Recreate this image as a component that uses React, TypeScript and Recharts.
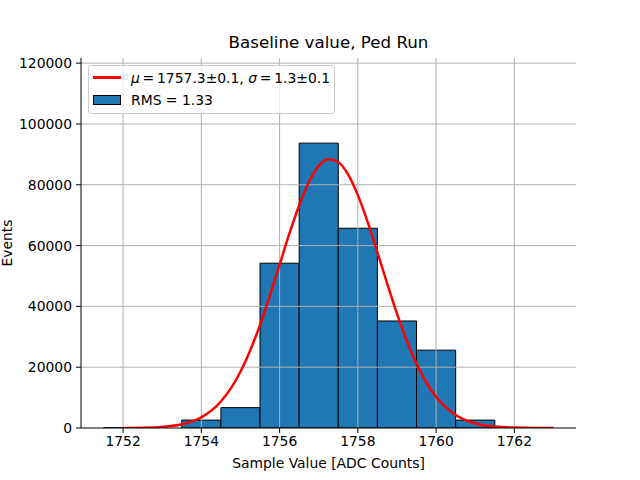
import React from "react";
import {
  ComposedChart,
  Line,
  XAxis,
  YAxis,
  ReferenceArea,
  ReferenceLine,
  Label,
} from "recharts";

// histogram bins (bin centres, width 1)
const binCenters = [1752, 1754, 1755, 1756, 1757, 1758, 1759, 1760, 1761];
const binCounts = [60, 2600, 6700, 54200, 93700, 65700, 35200, 25600, 2600];

// fitted gaussian
const fitX = [
  1752, 1752.5, 1753, 1753.5, 1754, 1754.5, 1755, 1755.5, 1755.75, 1756,
  1756.25, 1756.5, 1756.75, 1757, 1757.25, 1757.5, 1757.75, 1758, 1758.25,
  1758.5, 1758.75, 1759, 1759.25, 1759.5, 1760, 1760.5, 1761, 1761.5, 1762,
  1762.5, 1763,
];
const fitY = [
  20, 100, 370, 1230, 3500, 8700, 18500, 33900, 43500, 53700, 63900, 73200,
  80900, 86200, 88400, 87500, 83400, 76600, 67800, 57800, 47500, 37600, 28700,
  21100, 10200, 4300, 1500, 480, 130, 30, 6,
];

const xTicks = [1752, 1754, 1756, 1758, 1760, 1762];
const yTicks = [0, 20000, 40000, 60000, 80000, 100000, 120000];

const fitLabel = "1757.3±0.1";
const sigmaLabel = "1.3±0.1";
const rmsLabel = "RMS = 1.33";

const font = "'DejaVu Sans', sans-serif";
const blue = "#1f77b4";
const xDomain = [1750.925, 1763.575];
const yDomain = [0, 121700];

export default function App() {
  const data = fitX.map((x, i) => ({ x, y: fitY[i] }));
  const tickStyle = { fill: "#000", fontSize: 13.9, fontFamily: font };

  return (
    <div
      style={{
        position: "absolute",
        left: 0,
        top: 0,
        width: 640,
        height: 480,
        background: "#fff",
        fontFamily: font,
      }}
    >
      <div
        style={{
          position: "absolute",
          left: 81,
          width: 495,
          top: 32,
          textAlign: "center",
          fontSize: 16.7,
          lineHeight: "20px",
        }}
      >
        Baseline value, Ped Run
      </div>
      <ComposedChart
        width={640}
        height={480}
        data={data}
        margin={{ top: 58, right: 64, bottom: 0, left: 0 }}
      >
        <XAxis
          dataKey="x"
          type="number"
          domain={xDomain}
          ticks={xTicks}
          allowDataOverflow
          height={52}
          tick={tickStyle}
          tickSize={5}
          tickMargin={3}
          stroke="#000"
        >
          <Label
            value="Sample Value [ADC Counts]"
            position="insideBottom"
            offset={12}
            style={{ fill: "#000", fontSize: 13.9, fontFamily: font }}
          />
        </XAxis>
        <XAxis
          xAxisId="top"
          orientation="top"
          type="number"
          domain={xDomain}
          height={0}
          tick={false}
          tickLine={false}
          stroke="#000"
        />
        <YAxis
          type="number"
          domain={yDomain}
          ticks={yTicks}
          allowDataOverflow
          width={81}
          tick={tickStyle}
          tickSize={5}
          tickMargin={4}
          stroke="#000"
        >
          <Label
            value="Events"
            angle={-90}
            position="insideLeft"
            offset={7}
            style={{ fill: "#000", fontSize: 13.9, fontFamily: font, textAnchor: "middle" }}
          />
        </YAxis>
        <YAxis
          yAxisId="right"
          orientation="right"
          type="number"
          domain={yDomain}
          width={0}
          tick={false}
          tickLine={false}
          stroke="#000"
        />
        {binCenters.map((c, i) => (
          <ReferenceArea
            key={"bin" + c}
            x1={c - 0.5}
            x2={c + 0.5}
            y1={0}
            y2={binCounts[i]}
            fill={blue}
            fillOpacity={1}
            stroke="#000"
            strokeWidth={1}
            ifOverflow="hidden"
          />
        ))}
        {xTicks.map((t) => (
          <ReferenceLine key={"gx" + t} x={t} stroke="#b0b0b0" strokeWidth={1} />
        ))}
        {yTicks.slice(1).map((t) => (
          <ReferenceLine key={"gy" + t} y={t} stroke="#b0b0b0" strokeWidth={1} />
        ))}
        <Line
          dataKey="y"
          type="monotone"
          stroke="#ff0000"
          strokeWidth={2.5}
          dot={false}
          isAnimationActive={false}
        />
      </ComposedChart>
      <div
        style={{
          position: "absolute",
          left: 88,
          top: 65,
          width: 245,
          height: 47,
          border: "1px solid #cccccc",
          borderRadius: 3,
          background: "rgba(255,255,255,0.8)",
          fontSize: 13.9,
          color: "#000",
        }}
      >
        <div style={{ position: "absolute", left: 4, top: 10, width: 28, height: 2.5, background: "#ff0000" }} />
        <div style={{ position: "absolute", left: 42, top: 2, lineHeight: "20px", whiteSpace: "nowrap" }}>
          <i>μ</i>
          {"\u2009=\u2009" + fitLabel + ", "}
          <i>σ</i>
          {"\u2009=\u2009" + sigmaLabel}
        </div>
        <div
          style={{
            position: "absolute",
            left: 4,
            top: 29,
            width: 26,
            height: 8,
            background: blue,
            border: "1px solid #000",
          }}
        />
        <div style={{ position: "absolute", left: 42, top: 24, lineHeight: "20px", whiteSpace: "nowrap" }}>
          {rmsLabel}
        </div>
      </div>
    </div>
  );
}
